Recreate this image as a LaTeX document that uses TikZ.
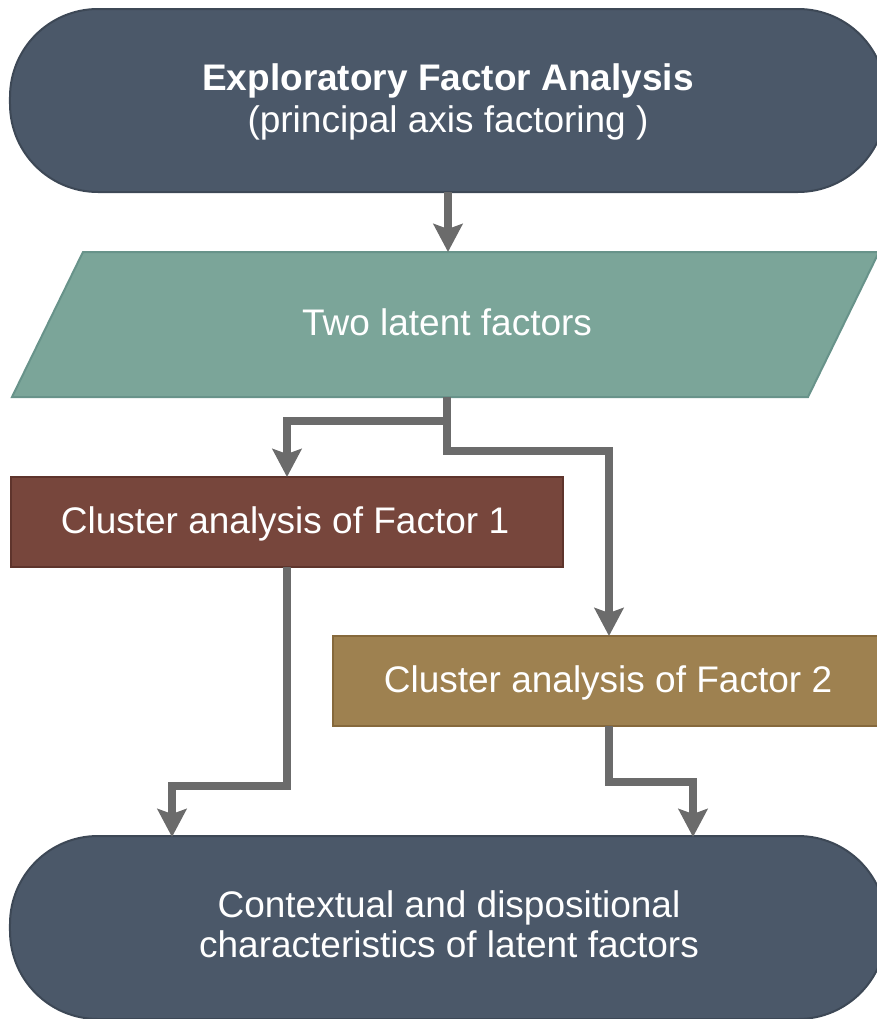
\documentclass[tikz,border=0pt]{standalone}
\usepackage{fontspec}
\setmainfont{Liberation Sans}
\usetikzlibrary{arrows.meta}
\definecolor{termfill}{HTML}{4B5869}
\definecolor{termdraw}{HTML}{3D4856}
\definecolor{latfill}{HTML}{7BA599}
\definecolor{latdraw}{HTML}{68938A}
\definecolor{cafill}{HTML}{77463C}
\definecolor{cadraw}{HTML}{5E342C}
\definecolor{cbfill}{HTML}{9E8150}
\definecolor{cbdraw}{HTML}{86693C}
\definecolor{arrgray}{HTML}{6B6B6B}
\tikzset{
  term/.style={draw=termdraw, fill=termfill, line width=2bp, rounded corners=88bp,
    minimum width=876bp, minimum height=183bp, inner sep=0pt, outer sep=0pt},
  procbox/.style={draw=#1draw, fill=#1fill, line width=2bp,
    minimum width=552bp, minimum height=90bp, inner sep=0pt, outer sep=0pt},
  area/.style={minimum width=796bp, minimum height=145bp, inner sep=0pt, outer sep=0pt},
  txt/.style={text=white, anchor=base, inner sep=0pt, font=\fontsize{37bp}{42bp}\selectfont},
  arr/.style={draw=arrgray, line width=7.5bp, line join=miter,
    -{Stealth[length=28bp, width=29bp, inset=5bp]}}
}
\begin{document}
\begin{tikzpicture}[x=1bp, y=-1bp]
\useasboundingbox (0,0) rectangle (877,1019);
\clip (0,0) rectangle (877,1019);
% shapes
\node[term] (efa) at (448,100.5) {};
\node[area] (lat) at (447,324.5) {};
\draw[draw=latdraw, fill=latfill, line width=2bp] (12,397) -- (808,397) -- (879,252) -- (83,252) -- cycle;
\node[procbox=ca] (c1) at (287,522) {};
\node[procbox=cb] (c2) at (609,681) {};
\node[term] (ctx) at (448,927.5) {};
% texts
\node[txt, font=\fontsize{37bp}{42bp}\selectfont\bfseries] (efa1) at (448,90) {Exploratory Factor Analysis};
\node[txt] (efa2) at (448,132) {(principal axis factoring )};
\node[txt] (latt) at (447,335) {Two latent factors};
\node[txt] (c1t) at (285,533) {Cluster analysis of Factor 1};
\node[txt] (c2t) at (608,692) {Cluster analysis of Factor 2};
\node[txt] (ctx1) at (449,917) {Contextual and dispositional};
\node[txt] (ctx2) at (449,957) {characteristics of latent factors};
% connectors
\coordinate (fork) at (447,397);
\coordinate (in1) at (172,837);
\coordinate (in2) at (693,837);
\draw[arr] (efa.south) -- (efa.south |- lat.north);
\draw[arr] (fork) -- (447,421) -| (c1.north);
\draw[arr] (fork) -- (447,451) -| (c2.north);
\draw[arr] (c1.south) -- (287,786) -| (in1);
\draw[arr] (c2.south) -- (609,782) -| (in2);
\end{tikzpicture}
\end{document}
